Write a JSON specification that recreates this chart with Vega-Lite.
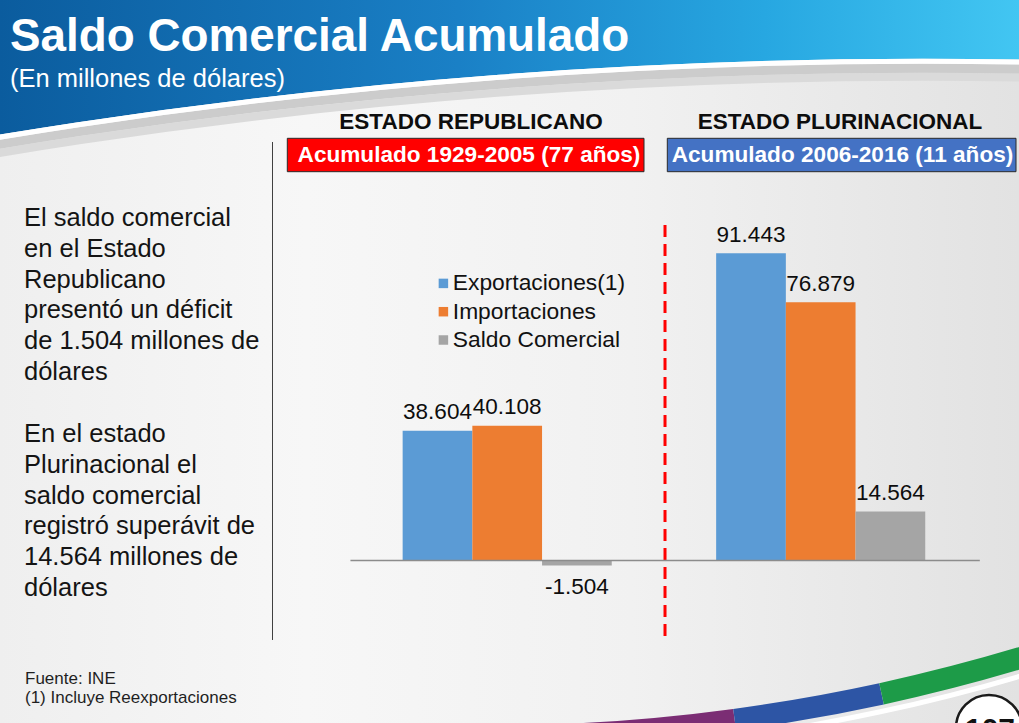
{
  "$schema": "https://vega.github.io/schema/vega-lite/v6.json",
  "width": 1019,
  "height": 723,
  "autosize": {"type": "none"},
  "padding": 0,
  "background": "#ececec",
  "config": {
    "view": {"stroke": null},
    "font": "Liberation Sans",
    "axis": {"disable": true},
    "locale": {"number": {"decimal": ",", "thousands": ".", "grouping": [3], "currency": ["", ""], "minus": "-"}}
  },
  "datasets": {
    "saldo": [
      {"estado": "Estado Republicano", "serie": "Exportaciones(1)", "valor": 38604},
      {"estado": "Estado Republicano", "serie": "Importaciones", "valor": 40108},
      {"estado": "Estado Republicano", "serie": "Saldo Comercial", "valor": -1504},
      {"estado": "Estado Plurinacional", "serie": "Exportaciones(1)", "valor": 91443},
      {"estado": "Estado Plurinacional", "serie": "Importaciones", "valor": 76879},
      {"estado": "Estado Plurinacional", "serie": "Saldo Comercial", "valor": 14564}
    ]
  },
  "layer": [
    {
      "data": {"values": [{}]},
      "mark": {"type": "rect", "fill": {"gradient": "linear", "x1": 0, "y1": 0, "x2": 1, "y2": 0, "stops": [
        {"offset": 0, "color": "#0b5c9e"}, {"offset": 0.45, "color": "#1a80c6"}, {"offset": 0.75, "color": "#27a7e1"}, {"offset": 1, "color": "#42c6f2"}]}},
      "encoding": {"y": {"datum": 166845}, "y2": {"datum": 122194}}
    },
    {
      "data": {"values": [{}]},
      "mark": {"type": "arc", "theta": -0.3, "theta2": 0.3, "radius": 5651, "radius2": 0,
        "fill": {"gradient": "linear", "x1": 0.22376, "y1": 0, "x2": 0.52887, "y2": 0, "stops": [
          {"offset": 0, "color": "#efefef"}, {"offset": 0.3, "color": "#f7f7f7"}, {"offset": 0.62, "color": "#f1f1f1"}, {"offset": 1, "color": "#e2e2e2"}]}},
      "encoding": {"x": {"datum": "Estado Plurinacional", "bandPosition": 0.825}, "y": {"datum": -1532802}}
    },
    {
      "data": {"values": [{}]},
      "mark": {"type": "arc", "theta": -0.3, "theta2": 0.3, "radius": 5637, "radius2": 5629, "fill": "#dadada"},
      "encoding": {"x": {"datum": "Estado Plurinacional", "bandPosition": 0.825}, "y": {"datum": -1532802}}
    },
    {
      "data": {"values": [{}]},
      "mark": {"type": "arc", "theta": -0.3, "theta2": 0.3, "radius": 5646, "radius2": 5637, "fill": "#cccccc"},
      "encoding": {"x": {"datum": "Estado Plurinacional", "bandPosition": 0.825}, "y": {"datum": -1532802}}
    },
    {
      "data": {"values": [{}]},
      "mark": {"type": "arc", "theta": -0.3, "theta2": 0.3, "radius": 5651, "radius2": 5646, "fill": "#ffffff"},
      "encoding": {"x": {"datum": "Estado Plurinacional", "bandPosition": 0.825}, "y": {"datum": -1532802}}
    },
    {
      "data": {"values": [{}]},
      "mark": {"type": "text", "text": "Saldo Comercial Acumulado", "font": "Liberation Sans", "fontSize": 45.8, "fontWeight": "bold", "color": "#ffffff", "align": "left", "baseline": "alphabetic"},
      "encoding": {"x": {"datum": "Estado Republicano", "bandPosition": -1.086}, "y": {"datum": 151664}}
    },
    {
      "data": {"values": [{}]},
      "mark": {"type": "text", "text": "(En millones de dólares)", "font": "Liberation Sans", "fontSize": 25.5, "color": "#ffffff", "align": "left", "baseline": "alphabetic"},
      "encoding": {"x": {"datum": "Estado Republicano", "bandPosition": -1.086}, "y": {"datum": 140948}}
    },
    {
      "data": {"values": [{}]},
      "mark": {"type": "rule", "color": "#404040", "strokeWidth": 1},
      "encoding": {"x": {"datum": "Estado Republicano", "bandPosition": -0.2486}, "y": {"datum": 124576}, "y2": {"datum": -23665}}
    },
    {
      "data": {"values": [{}]},
      "mark": {"type": "text", "text": "ESTADO REPUBLICANO", "fontSize": 22.5, "fontWeight": "bold", "color": "#0d0d0d", "align": "center", "baseline": "alphabetic"},
      "encoding": {"x": {"datum": "Estado Republicano", "bandPosition": 0.3845}, "y": {"datum": 128356}}
    },
    {
      "data": {"values": [{}]},
      "mark": {"type": "text", "text": "ESTADO PLURINACIONAL", "fontSize": 22.5, "fontWeight": "bold", "color": "#0d0d0d", "align": "center", "baseline": "alphabetic"},
      "encoding": {"x": {"datum": "Estado Plurinacional", "bandPosition": 0.5616}, "y": {"datum": 128356}}
    },
    {
      "data": {"values": [{}]},
      "mark": {"type": "rect", "fill": "#ff0000", "stroke": "#2a2a2a", "strokeWidth": 1},
      "encoding": {"x": {"datum": "Estado Republicano", "bandPosition": -0.2014}, "x2": {"datum": "Estado Republicano", "bandPosition": 0.9364}, "y": {"datum": 125677}, "y2": {"datum": 115735}}
    },
    {
      "data": {"values": [{}]},
      "mark": {"type": "rect", "fill": "#4472c4", "stroke": "#2a2a2a", "strokeWidth": 1},
      "encoding": {"x": {"datum": "Estado Plurinacional", "bandPosition": 0.0107}, "x2": {"datum": "Estado Plurinacional", "bandPosition": 1.123}, "y": {"datum": 125677}, "y2": {"datum": 115735}}
    },
    {
      "data": {"values": [{}]},
      "mark": {"type": "text", "text": "Acumulado 1929-2005 (77 años)", "font": "Liberation Sans", "fontSize": 22.6, "fontWeight": "bold", "color": "#ffffff", "align": "center", "baseline": "alphabetic"},
      "encoding": {"x": {"datum": "Estado Republicano", "bandPosition": 0.3781}, "y": {"datum": 118474}}
    },
    {
      "data": {"values": [{}]},
      "mark": {"type": "text", "text": "Acumulado 2006-2016 (11 años)", "font": "Liberation Sans", "fontSize": 22.6, "fontWeight": "bold", "color": "#ffffff", "align": "center", "baseline": "alphabetic"},
      "encoding": {"x": {"datum": "Estado Plurinacional", "bandPosition": 0.5695}, "y": {"datum": 118474}}
    },
    {
      "data": {"values": [{}]},
      "mark": {"type": "text", "text": ["El saldo comercial", "en el Estado", "Republicano", "presentó un déficit", "de 1.504 millones de", "dólares"],
        "fontSize": 25.5, "lineHeight": 30.8, "color": "#141414", "align": "left", "baseline": "alphabetic"},
      "encoding": {"x": {"datum": "Estado Republicano", "bandPosition": -1.0413}, "y": {"datum": 99571}}
    },
    {
      "data": {"values": [{}]},
      "mark": {"type": "text", "text": ["En el estado", "Plurinacional el", "saldo comercial", "registró superávit de", "14.564 millones de", "dólares"],
        "fontSize": 25.5, "lineHeight": 30.8, "color": "#141414", "align": "left", "baseline": "alphabetic"},
      "encoding": {"x": {"datum": "Estado Republicano", "bandPosition": -1.0413}, "y": {"datum": 35274}}
    },
    {
      "data": {"values": [{}]},
      "mark": {"type": "text", "text": ["Fuente: INE", "(1) Incluye Reexportaciones"], "fontSize": 17, "lineHeight": 19, "color": "#1f1f1f", "align": "left", "baseline": "alphabetic"},
      "encoding": {"x": {"datum": "Estado Republicano", "bandPosition": -1.0381}, "y": {"datum": -36762}}
    },
    {
      "data": {"values": [{}]},
      "mark": {"type": "rule", "color": "#ff0000", "strokeWidth": 3, "strokeDash": [12, 7]},
      "encoding": {"x": {"datum": "Estado Plurinacional", "bandPosition": 0.0034}, "y": {"datum": 99869}, "y2": {"datum": -23665}}
    },
    {
      "data": {"name": "saldo"},
      "mark": {"type": "bar"},
      "encoding": {
        "x": {"field": "estado", "type": "nominal", "scale": {"domain": ["Estado Republicano", "Estado Plurinacional"], "paddingInner": 0, "paddingOuter": 0.6252, "align": 0.894, "round": false}, "axis": null},
        "xOffset": {"field": "serie", "type": "nominal", "scale": {"domain": ["Exportaciones(1)", "Importaciones", "Saldo Comercial"], "paddingInner": 0, "paddingOuter": 0.749}},
        "y": {"field": "valor", "type": "quantitative", "scale": {"domain": [-48372, 166845], "nice": false, "zero": false}, "axis": null},
        "color": {"field": "serie", "type": "nominal",
          "scale": {"domain": ["Exportaciones(1)", "Importaciones", "Saldo Comercial"], "range": ["#5b9bd5", "#ed7d31", "#a5a5a5"]},
          "legend": {"orient": "none", "legendX": 432, "legendY": 272, "title": null, "labelFontSize": 22.8, "labelColor": "#111111", "labelFont": "Liberation Sans", "labelLimit": 0, "symbolType": "square", "symbolSize": 90, "symbolStrokeWidth": 0, "rowPadding": 4.3, "labelOffset": -2}}
      }
    },
    {
      "data": {"values": [{}]},
      "mark": {"type": "rule", "color": "#8c8c8c", "strokeWidth": 1.3},
      "encoding": {"x": {"datum": "Estado Republicano", "bandPosition": 0}, "x2": {"datum": "Estado Plurinacional", "bandPosition": 1.0075}, "y": {"datum": 0}}
    },
    {
      "data": {"name": "saldo"},
      "transform": [{"filter": "datum.valor >= 0"}],
      "mark": {"type": "text", "fontSize": 22.5, "color": "#0d0d0d", "baseline": "alphabetic", "dy": -11.5},
      "encoding": {
        "x": {"field": "estado", "type": "nominal"},
        "xOffset": {"field": "serie", "type": "nominal"},
        "y": {"field": "valor", "type": "quantitative"},
        "text": {"field": "valor", "type": "quantitative", "format": ",d"}
      }
    },
    {
      "data": {"name": "saldo"},
      "transform": [{"filter": "datum.valor < 0"}],
      "mark": {"type": "text", "fontSize": 22.5, "color": "#0d0d0d", "baseline": "alphabetic", "dy": 28},
      "encoding": {
        "x": {"field": "estado", "type": "nominal"},
        "xOffset": {"field": "serie", "type": "nominal"},
        "y": {"field": "valor", "type": "quantitative"},
        "text": {"field": "valor", "type": "quantitative", "format": ",d"}
      }
    },
    {
      "data": {"values": [{}]},
      "mark": {"type": "arc", "theta": 3.0073, "theta2": 3.16, "radius": 1876, "radius2": 1854.3, "fill": "#7b2d74"},
      "encoding": {"x": {"datum": "Estado Republicano", "bandPosition": 0.4289}, "y": {"datum": 502828}}
    },
    {
      "data": {"values": [{}]},
      "mark": {"type": "arc", "theta": 2.9273, "theta2": 3.0073, "radius": 1876, "radius2": 1854.3, "fill": "#2d55a5"},
      "encoding": {"x": {"datum": "Estado Republicano", "bandPosition": 0.4289}, "y": {"datum": 502828}}
    },
    {
      "data": {"values": [{}]},
      "mark": {"type": "arc", "theta": 2.7, "theta2": 2.9273, "radius": 1876, "radius2": 1854.3, "fill": "#1d9b48"},
      "encoding": {"x": {"datum": "Estado Republicano", "bandPosition": 0.4289}, "y": {"datum": 502828}}
    },
    {
      "data": {"values": [{}]},
      "mark": {"type": "arc", "theta": 2.7, "theta2": 3.16, "radius": 1885, "radius2": 1880, "fill": "#ffffff"},
      "encoding": {"x": {"datum": "Estado Republicano", "bandPosition": 0.4289}, "y": {"datum": 502828}}
    },
    {
      "data": {"values": [{}]},
      "mark": {"type": "arc", "theta": 0, "theta2": 6.2832, "radius": 33, "radius2": 0, "fill": "#ffffff", "stroke": "#1a1a1a", "strokeWidth": 2.5},
      "encoding": {"x": {"datum": "Estado Plurinacional", "bandPosition": 1.0368}, "y": {"datum": -49860}}
    },
    {
      "data": {"values": [{}]},
      "mark": {"type": "text", "text": "107", "fontSize": 30, "fontWeight": "bold", "color": "#111111", "align": "center", "baseline": "alphabetic"},
      "encoding": {"x": {"datum": "Estado Plurinacional", "bandPosition": 1.04}, "y": {"datum": -53134}}
    }
  ]
}
